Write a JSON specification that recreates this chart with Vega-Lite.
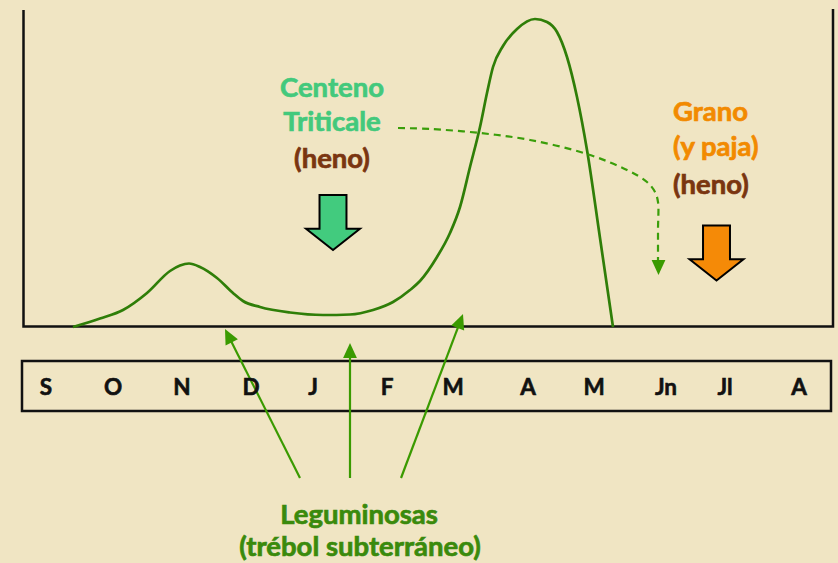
{
  "$schema": "https://vega.github.io/schema/vega-lite/v6.json",
  "width": 838,
  "height": 563,
  "padding": 0,
  "autosize": {"type": "fit", "contains": "padding"},
  "background": "#F0E5C3",
  "config": {"view": {"stroke": null}},
  "datasets": {
    "marco": [
      {"i": 0, "x": 23.5, "y": 10},
      {"i": 1, "x": 23.5, "y": 326.5},
      {"i": 2, "x": 833, "y": 326.5},
      {"i": 3, "x": 833, "y": 9}
    ],
    "caja": [{"x": 22, "y": 361, "x2": 831, "y2": 411}],
    "curva": [
      {"x": 73, "y": 327}, {"x": 100, "y": 318.5}, {"x": 123, "y": 310}, {"x": 147, "y": 293},
      {"x": 170, "y": 271}, {"x": 180, "y": 265.5}, {"x": 189, "y": 263.5}, {"x": 200, "y": 267},
      {"x": 217, "y": 278}, {"x": 233, "y": 293}, {"x": 243, "y": 301}, {"x": 260, "y": 307},
      {"x": 290, "y": 312.5}, {"x": 323, "y": 315}, {"x": 350, "y": 314.5}, {"x": 373, "y": 310},
      {"x": 393, "y": 302}, {"x": 410, "y": 290}, {"x": 420, "y": 281}, {"x": 437, "y": 257},
      {"x": 450, "y": 233}, {"x": 460, "y": 207}, {"x": 470, "y": 167}, {"x": 480, "y": 127},
      {"x": 487, "y": 93}, {"x": 493, "y": 67}, {"x": 503, "y": 46}, {"x": 517, "y": 29},
      {"x": 535, "y": 19}, {"x": 547, "y": 22}, {"x": 557, "y": 32}, {"x": 567, "y": 57},
      {"x": 577, "y": 97}, {"x": 587, "y": 150}, {"x": 600, "y": 238}, {"x": 613, "y": 327}
    ],
    "guion": [
      {"i": 0, "x": 398, "y": 128}, {"i": 1, "x": 430, "y": 129}, {"i": 2, "x": 480, "y": 133},
      {"i": 3, "x": 530, "y": 140}, {"i": 4, "x": 587, "y": 154}, {"i": 5, "x": 627, "y": 170},
      {"i": 6, "x": 647, "y": 182}, {"i": 7, "x": 655, "y": 192}, {"i": 8, "x": 658, "y": 202},
      {"i": 9, "x": 658, "y": 230}, {"i": 10, "x": 658, "y": 262}
    ],
    "flechas": [
      {"x": 300, "y": 478, "x2": 229.5, "y2": 338},
      {"x": 350, "y": 478, "x2": 350, "y2": 353},
      {"x": 401, "y": 478, "x2": 459.5, "y2": 323.4}
    ],
    "puntas": [
      {"x": 225, "y": 329, "ang": 333.3},
      {"x": 350, "y": 343, "ang": 0},
      {"x": 463, "y": 314, "ang": 20.7},
      {"x": 658.5, "y": 275, "ang": 180}
    ],
    "bloques": [
      {"x": 333, "y": 222.5, "tipo": "forraje"},
      {"x": 716.5, "y": 253, "tipo": "grano"}
    ],
    "meses": [
      {"t": "S", "x": 46, "y": 395}, {"t": "O", "x": 113, "y": 395}, {"t": "N", "x": 182, "y": 395},
      {"t": "D", "x": 251, "y": 395}, {"t": "J", "x": 313, "y": 395}, {"t": "F", "x": 387, "y": 395},
      {"t": "M", "x": 453, "y": 395}, {"t": "A", "x": 528, "y": 395}, {"t": "M", "x": 594, "y": 395},
      {"t": "Jn", "x": 666, "y": 395}, {"t": "Jl", "x": 725, "y": 395}, {"t": "A", "x": 799, "y": 395}
    ],
    "textos_centro": [
      {"t": "Centeno", "x": 332, "y": 96.5, "grupo": "cereal"},
      {"t": "Triticale", "x": 332, "y": 131, "grupo": "cereal"},
      {"t": "(heno)", "x": 332, "y": 168, "grupo": "heno"},
      {"t": "Leguminosas", "x": 359, "y": 524, "grupo": "leguminosa"},
      {"t": "(trébol subterráneo)", "x": 360, "y": 556, "grupo": "leguminosa"}
    ],
    "textos_izq": [
      {"t": "Grano", "x": 673, "y": 120.5, "grupo": "grano"},
      {"t": "(y paja)", "x": 673, "y": 155.5, "grupo": "grano"},
      {"t": "(heno)", "x": 673, "y": 193.5, "grupo": "heno"}
    ]
  },
  "encoding": {
    "x": {"field": "x", "type": "quantitative", "axis": null, "scale": {"domain": [0, 838], "nice": false, "zero": false}},
    "y": {"field": "y", "type": "quantitative", "axis": null, "scale": {"domain": [0, 563], "nice": false, "zero": false, "reverse": true}}
  },
  "layer": [
    {
      "data": {"name": "marco"},
      "mark": {"type": "line", "color": "#111111", "strokeWidth": 2.5},
      "encoding": {"order": {"field": "i", "type": "quantitative"}}
    },
    {
      "data": {"name": "caja"},
      "mark": {"type": "rect", "fillOpacity": 0, "stroke": "#111111", "strokeWidth": 2.5},
      "encoding": {"x2": {"field": "x2"}, "y2": {"field": "y2"}}
    },
    {
      "data": {"name": "curva"},
      "mark": {"type": "line", "color": "#2F7E08", "strokeWidth": 2.7, "interpolate": "monotone"},
      "encoding": {}
    },
    {
      "data": {"name": "guion"},
      "mark": {"type": "line", "color": "#3A9E0A", "strokeWidth": 2.2, "strokeDash": [7, 5], "interpolate": "catmull-rom"},
      "encoding": {"order": {"field": "i", "type": "quantitative"}}
    },
    {
      "data": {"name": "flechas"},
      "mark": {"type": "rule", "color": "#3A9A00", "strokeWidth": 2.2},
      "encoding": {"x2": {"field": "x2"}, "y2": {"field": "y2"}}
    },
    {
      "data": {"name": "puntas"},
      "mark": {"type": "point", "shape": "M0,0L-0.46,1L0.46,1Z", "size": 900, "filled": true, "color": "#3A9A00", "opacity": 1, "strokeWidth": 0},
      "encoding": {"angle": {"field": "ang", "type": "quantitative", "scale": null}}
    },
    {
      "data": {"name": "bloques"},
      "mark": {"type": "point", "shape": "M-0.49,-1L0.49,-1L0.49,0.23L0.98,0.23L0,1L-0.98,0.23L-0.49,0.23Z", "size": 3025, "filled": true, "stroke": "#000000", "strokeWidth": 2, "opacity": 1, "fillOpacity": 1, "strokeOpacity": 1},
      "encoding": {
        "fill": {"field": "tipo", "type": "nominal", "legend": null, "scale": {"domain": ["forraje", "grano"], "range": ["#42CB7E", "#F58A07"]}}
      }
    },
    {
      "data": {"name": "meses"},
      "mark": {"type": "text", "font": "Lato", "fontWeight": "bold", "fontSize": 22.5, "align": "center", "baseline": "alphabetic", "color": "#111111", "stroke": "#111111", "strokeWidth": 0.6},
      "encoding": {"text": {"field": "t"}}
    },
    {
      "data": {"name": "textos_centro"},
      "mark": {"type": "text", "font": "Lato", "fontWeight": "bold", "fontSize": 27.5, "align": "center", "baseline": "alphabetic", "strokeWidth": 0.7},
      "encoding": {
        "text": {"field": "t"},
        "color": {"field": "grupo", "type": "nominal", "legend": null, "scale": {"domain": ["cereal", "heno", "grano", "leguminosa"], "range": ["#43C97C", "#7A3510", "#F28A00", "#3A8A0C"]}},
        "stroke": {"field": "grupo", "type": "nominal", "legend": null, "scale": {"domain": ["cereal", "heno", "grano", "leguminosa"], "range": ["#43C97C", "#7A3510", "#F28A00", "#3A8A0C"]}}
      }
    },
    {
      "data": {"name": "textos_izq"},
      "mark": {"type": "text", "font": "Lato", "fontWeight": "bold", "fontSize": 27.5, "align": "left", "baseline": "alphabetic", "strokeWidth": 0.7},
      "encoding": {
        "text": {"field": "t"},
        "color": {"field": "grupo", "type": "nominal", "legend": null, "scale": {"domain": ["cereal", "heno", "grano", "leguminosa"], "range": ["#43C97C", "#7A3510", "#F28A00", "#3A8A0C"]}},
        "stroke": {"field": "grupo", "type": "nominal", "legend": null, "scale": {"domain": ["cereal", "heno", "grano", "leguminosa"], "range": ["#43C97C", "#7A3510", "#F28A00", "#3A8A0C"]}}
      }
    }
  ]
}
